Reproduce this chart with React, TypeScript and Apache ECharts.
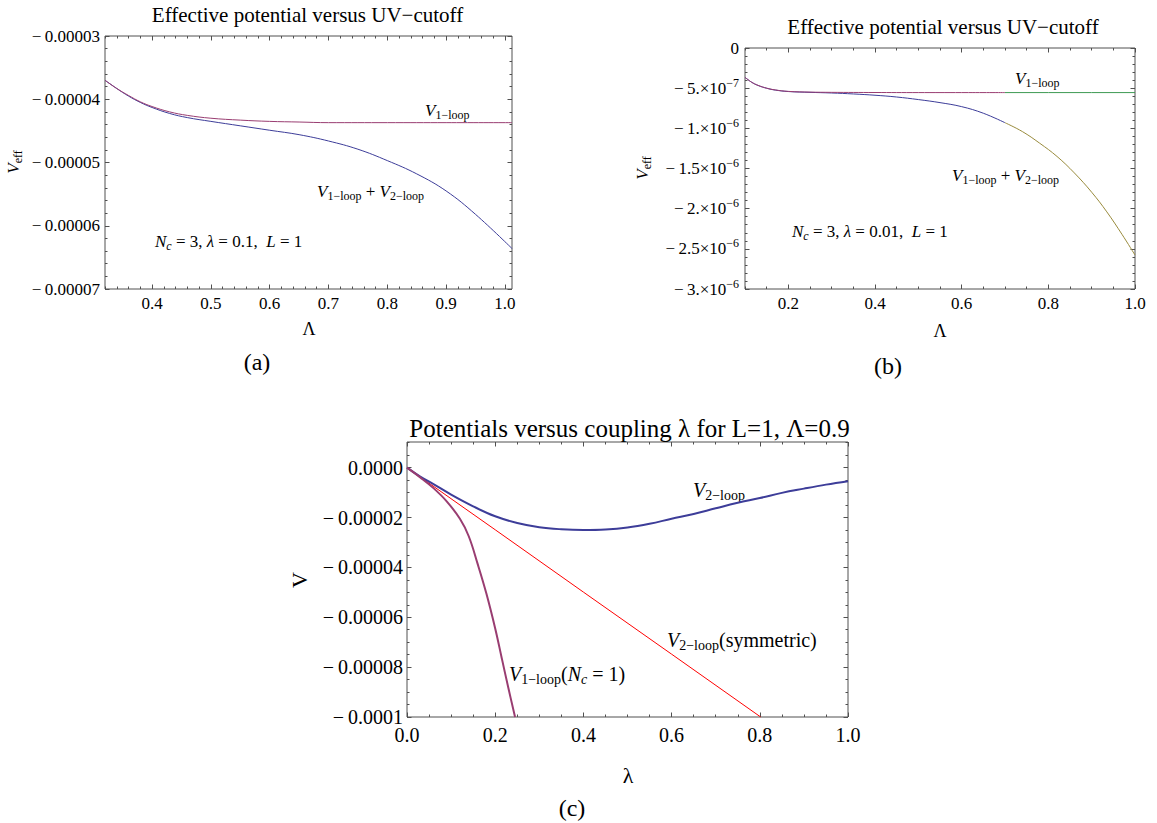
import React, { useEffect, useRef } from "react";
import * as echarts from "echarts";

// ---------- Panel (a): Effective potential versus UV-cutoff, lambda = 0.1 ----------
const aLambdaV1 = [0.32, 0.34, 0.36, 0.38, 0.40, 0.43, 0.46, 0.50, 0.55, 0.60, 0.65, 0.70, 0.80, 0.90, 1.012];
const aV1 = [-3.70e-5, -3.83e-5, -3.94e-5, -4.04e-5, -4.115e-5, -4.20e-5, -4.255e-5, -4.30e-5, -4.33e-5, -4.35e-5, -4.36e-5, -4.37e-5, -4.37e-5, -4.37e-5, -4.37e-5];
const aLambdaV12 = [0.32, 0.34, 0.36, 0.38, 0.40, 0.43, 0.46, 0.50, 0.55, 0.60, 0.65, 0.70, 0.75, 0.80, 0.85, 0.90, 0.95, 1.012];
const aV12 = [-3.70e-5, -3.83e-5, -3.95e-5, -4.05e-5, -4.13e-5, -4.225e-5, -4.29e-5, -4.35e-5, -4.42e-5, -4.49e-5, -4.56e-5, -4.66e-5, -4.79e-5, -4.97e-5, -5.18e-5, -5.45e-5, -5.82e-5, -6.36e-5];
const aXTicks = [0.4, 0.5, 0.6, 0.7, 0.8, 0.9, 1.0];
const aXTickLabels = ["0.4", "0.5", "0.6", "0.7", "0.8", "0.9", "1.0"];
const aYTicks = [-7e-5, -6e-5, -5e-5, -4e-5, -3e-5];
const aYTickLabels = ["\u2212\u20090.00007", "\u2212\u20090.00006", "\u2212\u20090.00005", "\u2212\u20090.00004", "\u2212\u20090.00003"];

// ---------- Panel (b): Effective potential versus UV-cutoff, lambda = 0.01 ----------
const bLambdaV1 = [0.10, 0.115, 0.13, 0.15, 0.17, 0.20, 0.25, 0.30, 0.40, 0.50, 0.60, 0.70];
const bV1 = [-3.65e-7, -4.25e-7, -4.65e-7, -5.00e-7, -5.22e-7, -5.40e-7, -5.49e-7, -5.52e-7, -5.54e-7, -5.55e-7, -5.55e-7, -5.55e-7];
const bLambdaV1Tail = [0.70, 0.80, 0.90, 1.00];
const bV1Tail = [-5.55e-7, -5.55e-7, -5.55e-7, -5.55e-7];
const bLambdaV12 = [0.10, 0.115, 0.13, 0.15, 0.17, 0.20, 0.25, 0.30, 0.35, 0.40, 0.45, 0.50, 0.55, 0.60, 0.65, 0.70];
const bV12 = [-3.65e-7, -4.25e-7, -4.66e-7, -5.01e-7, -5.24e-7, -5.42e-7, -5.52e-7, -5.60e-7, -5.72e-7, -5.88e-7, -6.10e-7, -6.42e-7, -6.80e-7, -7.30e-7, -8.12e-7, -9.30e-7];
const bLambdaV12Tail = [0.70, 0.74, 0.78, 0.82, 0.86, 0.90, 0.935, 0.97, 1.00];
const bV12Tail = [-9.30e-7, -10.40e-7, -11.85e-7, -13.50e-7, -15.55e-7, -17.95e-7, -20.40e-7, -23.20e-7, -25.77e-7];
const bXTicks = [0.2, 0.4, 0.6, 0.8, 1.0];
const bXTickLabels = ["0.2", "0.4", "0.6", "0.8", "1.0"];
const bYTicks = [-3e-6, -2.5e-6, -2e-6, -1.5e-6, -1e-6, -5e-7, 0];
const bYTickLabels = [
  "\u2212\u20093.\u00d710{p|\u22126}",
  "\u2212\u20092.5\u00d710{p|\u22126}",
  "\u2212\u20092.\u00d710{p|\u22126}",
  "\u2212\u20091.5\u00d710{p|\u22126}",
  "\u2212\u20091.\u00d710{p|\u22126}",
  "\u2212\u20095.\u00d710{p|\u22127}",
  "0",
];

// ---------- Panel (c): Potentials versus coupling lambda for L=1, Lambda=0.9 ----------
const cLambda2Loop = [0, 0.03, 0.06, 0.10, 0.15, 0.20, 0.25, 0.30, 0.35, 0.40, 0.45, 0.50, 0.55, 0.60, 0.65, 0.70, 0.75, 0.80, 0.85, 0.90, 0.95, 1.00];
const cV2Loop = [0, -0.36e-5, -0.66e-5, -1.08e-5, -1.55e-5, -1.95e-5, -2.22e-5, -2.39e-5, -2.47e-5, -2.50e-5, -2.48e-5, -2.40e-5, -2.25e-5, -2.05e-5, -1.86e-5, -1.63e-5, -1.41e-5, -1.22e-5, -1.01e-5, -0.84e-5, -0.68e-5, -0.54e-5];
const cLambdaSym = [0, 0.2, 0.4, 0.6, 0.802];
const cVSym = [0, -2.49e-5, -4.99e-5, -7.48e-5, -1.0e-4];
const cLambda1Loop = [0, 0.03, 0.06, 0.09, 0.12, 0.14, 0.16, 0.18, 0.20, 0.215, 0.23, 0.245];
const cV1Loop = [0, -0.39e-5, -0.82e-5, -1.35e-5, -2.05e-5, -2.75e-5, -3.85e-5, -5.05e-5, -6.45e-5, -7.65e-5, -8.85e-5, -10.0e-5];
const cXTicks = [0, 0.2, 0.4, 0.6, 0.8, 1.0];
const cXTickLabels = ["0.0", "0.2", "0.4", "0.6", "0.8", "1.0"];
const cYTicks = [-1e-4, -8e-5, -6e-5, -4e-5, -2e-5, 0];
const cYTickLabels = ["\u2212\u20090.0001", "\u2212\u20090.00008", "\u2212\u20090.00006", "\u2212\u20090.00004", "\u2212\u20090.00002", "0.0000"];

// ---------- styling ----------
const FRAME = "#505050";
const SERIF = '"Liberation Serif", "Times New Roman", Times, serif';
const BLUE = "#3d3d99";
const PURPLE = "#993d71";
const OLIVE = "#998b3d";
const GREEN = "#3d9953";
const RED = "#ff0000";

function steps(start: number, end: number, step: number, skip: number[]): number[] {
  const out: number[] = [];
  const n = Math.floor((end - start) / step + 1e-6);
  for (let i = 0; i <= n; i++) {
    const v = Number((start + i * step).toPrecision(10));
    if (!skip.some((s) => Math.abs(s - v) < step * 1e-3)) out.push(v);
  }
  return out;
}

function zip(xs: number[], ys: number[]) {
  return xs.map((x, i) => [x, ys[i]]);
}

type AxisSpec = {
  min: number;
  max: number;
  majors: number[];
  minors: number[];
  labels: string[];
  fontSize: number;
  margin: number;
  rich?: any;
};

function buildAxes(dim: "x" | "y", gridIndex: number, s: AxisSpec) {
  const p1 = dim === "x" ? "bottom" : "left";
  const p2 = dim === "x" ? "top" : "right";
  const base = (position: string, values: number[], len: number, withLabel: boolean) => ({
    type: "value",
    gridIndex,
    position,
    min: s.min,
    max: s.max,
    silent: true,
    axisLine: { show: false, onZero: false },
    splitLine: { show: false },
    splitArea: { show: false },
    minorTick: { show: false },
    minorSplitLine: { show: false },
    axisPointer: { show: false },
    axisTick: {
      show: true,
      inside: true,
      length: len,
      customValues: values,
      lineStyle: { color: FRAME, width: 1 },
    },
    axisLabel: withLabel
      ? {
          show: true,
          customValues: s.majors,
          margin: s.margin,
          color: "#000",
          fontFamily: SERIF,
          fontSize: s.fontSize,
          formatter: (v: number) => {
            const k = s.majors.findIndex((t) => Math.abs(t - v) <= Math.abs(t) * 1e-7 + 1e-15);
            return k >= 0 ? s.labels[k] : "";
          },
          rich: s.rich,
        }
      : { show: false },
  });
  return [
    base(p1, s.majors, 4.5, true),
    base(p1, s.minors, 2.5, false),
    base(p2, s.majors, 4.5, false),
    base(p2, s.minors, 2.5, false),
  ];
}

function richSet(main: number, sub: number) {
  const pad = Math.round(main * 0.55);
  return {
    i: { fontFamily: SERIF, fontSize: main, fontStyle: "italic", fill: "#000", color: "#000" },
    n: { fontFamily: SERIF, fontSize: main, fill: "#000", color: "#000" },
    s: { fontFamily: SERIF, fontSize: sub, fill: "#000", color: "#000", padding: [pad, 0, 0, 0] },
    si: { fontFamily: SERIF, fontSize: sub, fontStyle: "italic", fill: "#000", color: "#000", padding: [pad, 0, 0, 0] },
  };
}

function label(text: string, x: number, y: number, opts: any = {}) {
  const main = opts.main ?? 17;
  const sub = opts.sub ?? 12;
  return {
    type: "text",
    x,
    y,
    rotation: opts.rotation ?? 0,
    silent: true,
    style: {
      text,
      rich: richSet(main, sub),
      fontFamily: SERIF,
      fontSize: main,
      fontStyle: opts.italic ? "italic" : "normal",
      fill: "#000",
      align: opts.align ?? "left",
      textAlign: opts.align ?? "left",
      verticalAlign: "middle",
      textVerticalAlign: "middle",
    },
  };
}

function lineSeries(xi: number, xs: number[], ys: number[], color: string, width: number, smooth: number) {
  return {
    type: "line",
    xAxisIndex: xi * 4,
    yAxisIndex: xi * 4,
    data: zip(xs, ys),
    showSymbol: false,
    symbol: "none",
    smooth,
    silent: true,
    clip: true,
    lineStyle: { color, width },
    emphasis: { disabled: true },
  };
}

export default function App() {
  const ref = useRef<HTMLDivElement>(null);

  useEffect(() => {
    if (!ref.current) return;
    const chart = echarts.init(ref.current, undefined, { renderer: "svg" });

    const gridBase = {
      show: true,
      borderColor: FRAME,
      borderWidth: 1,
      backgroundColor: "transparent",
      containLabel: false,
      outerBoundsMode: "none",
    };

    const xAxes = [
      ...buildAxes("x", 0, {
        min: 0.32, max: 1.012, majors: aXTicks, minors: steps(0.32, 1.012, 0.02, aXTicks),
        labels: aXTickLabels, fontSize: 17, margin: 6,
      }),
      ...buildAxes("x", 1, {
        min: 0.1, max: 1.0, majors: bXTicks, minors: steps(0.1, 1.0, 0.05, bXTicks),
        labels: bXTickLabels, fontSize: 17, margin: 6,
      }),
      ...buildAxes("x", 2, {
        min: 0, max: 1.0, majors: cXTicks, minors: steps(0, 1.0, 0.05, cXTicks),
        labels: cXTickLabels, fontSize: 20, margin: 8,
      }),
    ];
    const yAxes = [
      ...buildAxes("y", 0, {
        min: -7e-5, max: -3e-5, majors: aYTicks, minors: steps(-7e-5, -3e-5, 2e-6, aYTicks),
        labels: aYTickLabels, fontSize: 17, margin: 5,
      }),
      ...buildAxes("y", 1, {
        min: -3e-6, max: 0, majors: bYTicks, minors: steps(-3e-6, 0, 1e-7, bYTicks),
        labels: bYTickLabels, fontSize: 17, margin: 6,
        rich: {
          p: { fontFamily: SERIF, fontSize: 12, color: "#000", padding: [0, 0, 11, 0] },
        },
      }),
      ...buildAxes("y", 2, {
        min: -1e-4, max: 1.03e-5, majors: cYTicks, minors: steps(-1e-4, 1.03e-5, 5e-6, cYTicks),
        labels: cYTickLabels, fontSize: 20, margin: 4,
      }),
    ];

    const graphics = [
      // titles
      label("Effective potential versus UV\u2212cutoff", 307.5, 15, { main: 21, align: "center" }),
      label("Effective potential versus UV\u2212cutoff", 943, 27, { main: 21, align: "center" }),
      label("Potentials versus coupling \u03bb for L=1, \u039b=0.9", 629.5, 428, { main: 25, align: "center" }),
      // axis names
      label("\u039b", 309, 329, { main: 18, align: "center" }),
      label("\u039b", 940, 331, { main: 18, align: "center" }),
      label("\u03bb", 628, 775, { main: 22, align: "center" }),
      label("{i|V}{s|eff}", 13.5, 162, { main: 17, sub: 12, align: "center", rotation: Math.PI / 2 }),
      label("{i|V}{s|eff}", 642, 168, { main: 17, sub: 12, align: "center", rotation: Math.PI / 2 }),
      label("V", 299, 580, { main: 22, align: "center", rotation: Math.PI / 2 }),
      // captions
      label("(a)", 257, 362, { main: 24, align: "center" }),
      label("(b)", 888, 366, { main: 24, align: "center" }),
      label("(c)", 572, 808, { main: 24, align: "center" }),
      // panel (a) annotations
      label("{i|V}{s|1\u2212loop}", 425, 110, { main: 17, sub: 12 }),
      label("{i|V}{s|1\u2212loop}{n| + }{i|V}{s|2\u2212loop}", 317, 191, { main: 17, sub: 12 }),
      label("{i|N}{si|c}{n| = 3, }{i|\u03bb}{n| = 0.1,  }{i|L}{n| = 1}", 155, 241.5, { main: 17, sub: 12 }),
      // panel (b) annotations
      label("{i|V}{s|1\u2212loop}", 1015, 78, { main: 17, sub: 12 }),
      label("{i|V}{s|1\u2212loop}{n| + }{i|V}{s|2\u2212loop}", 952, 175, { main: 17, sub: 12 }),
      label("{i|N}{si|c}{n| = 3, }{i|\u03bb}{n| = 0.01,  }{i|L}{n| = 1}", 792, 231, { main: 17, sub: 12 }),
      // panel (c) annotations
      label("{i|V}{s|2\u2212loop}", 693, 490, { main: 20, sub: 14 }),
      label("{i|V}{s|2\u2212loop}{n|(symmetric)}", 667, 640, { main: 20, sub: 14 }),
      label("{i|V}{s|1\u2212loop}{n|(}{i|N}{si|c}{n| = 1)}", 509, 674, { main: 20, sub: 14 }),
    ];

    chart.setOption({
      animation: false,
      backgroundColor: "#ffffff",
      textStyle: { fontFamily: SERIF },
      grid: [
        { ...gridBase, left: 105, top: 36, width: 407, height: 253 },
        { ...gridBase, left: 745, top: 48, width: 390, height: 241 },
        { ...gridBase, left: 407, top: 442, width: 441, height: 275 },
      ],
      xAxis: xAxes,
      yAxis: yAxes,
      series: [
        lineSeries(0, aLambdaV12, aV12, BLUE, 1, 0.4),
        lineSeries(0, aLambdaV1, aV1, PURPLE, 1, 0.4),
        lineSeries(1, bLambdaV12, bV12, BLUE, 1, 0.4),
        lineSeries(1, bLambdaV12Tail, bV12Tail, OLIVE, 1, 0.4),
        lineSeries(1, bLambdaV1, bV1, PURPLE, 1, 0.4),
        lineSeries(1, bLambdaV1Tail, bV1Tail, GREEN, 1, 0),
        lineSeries(2, cLambdaSym, cVSym, RED, 1, 0),
        lineSeries(2, cLambda2Loop, cV2Loop, BLUE, 2, 0.4),
        lineSeries(2, cLambda1Loop, cV1Loop, PURPLE, 2, 0.4),
      ],
      graphic: graphics,
    });

    return () => {
      chart.dispose();
    };
  }, []);

  return (
    <div
      ref={ref}
      style={{ position: "absolute", left: 0, top: 0, width: 1157, height: 823, background: "#fff" }}
    />
  );
}
